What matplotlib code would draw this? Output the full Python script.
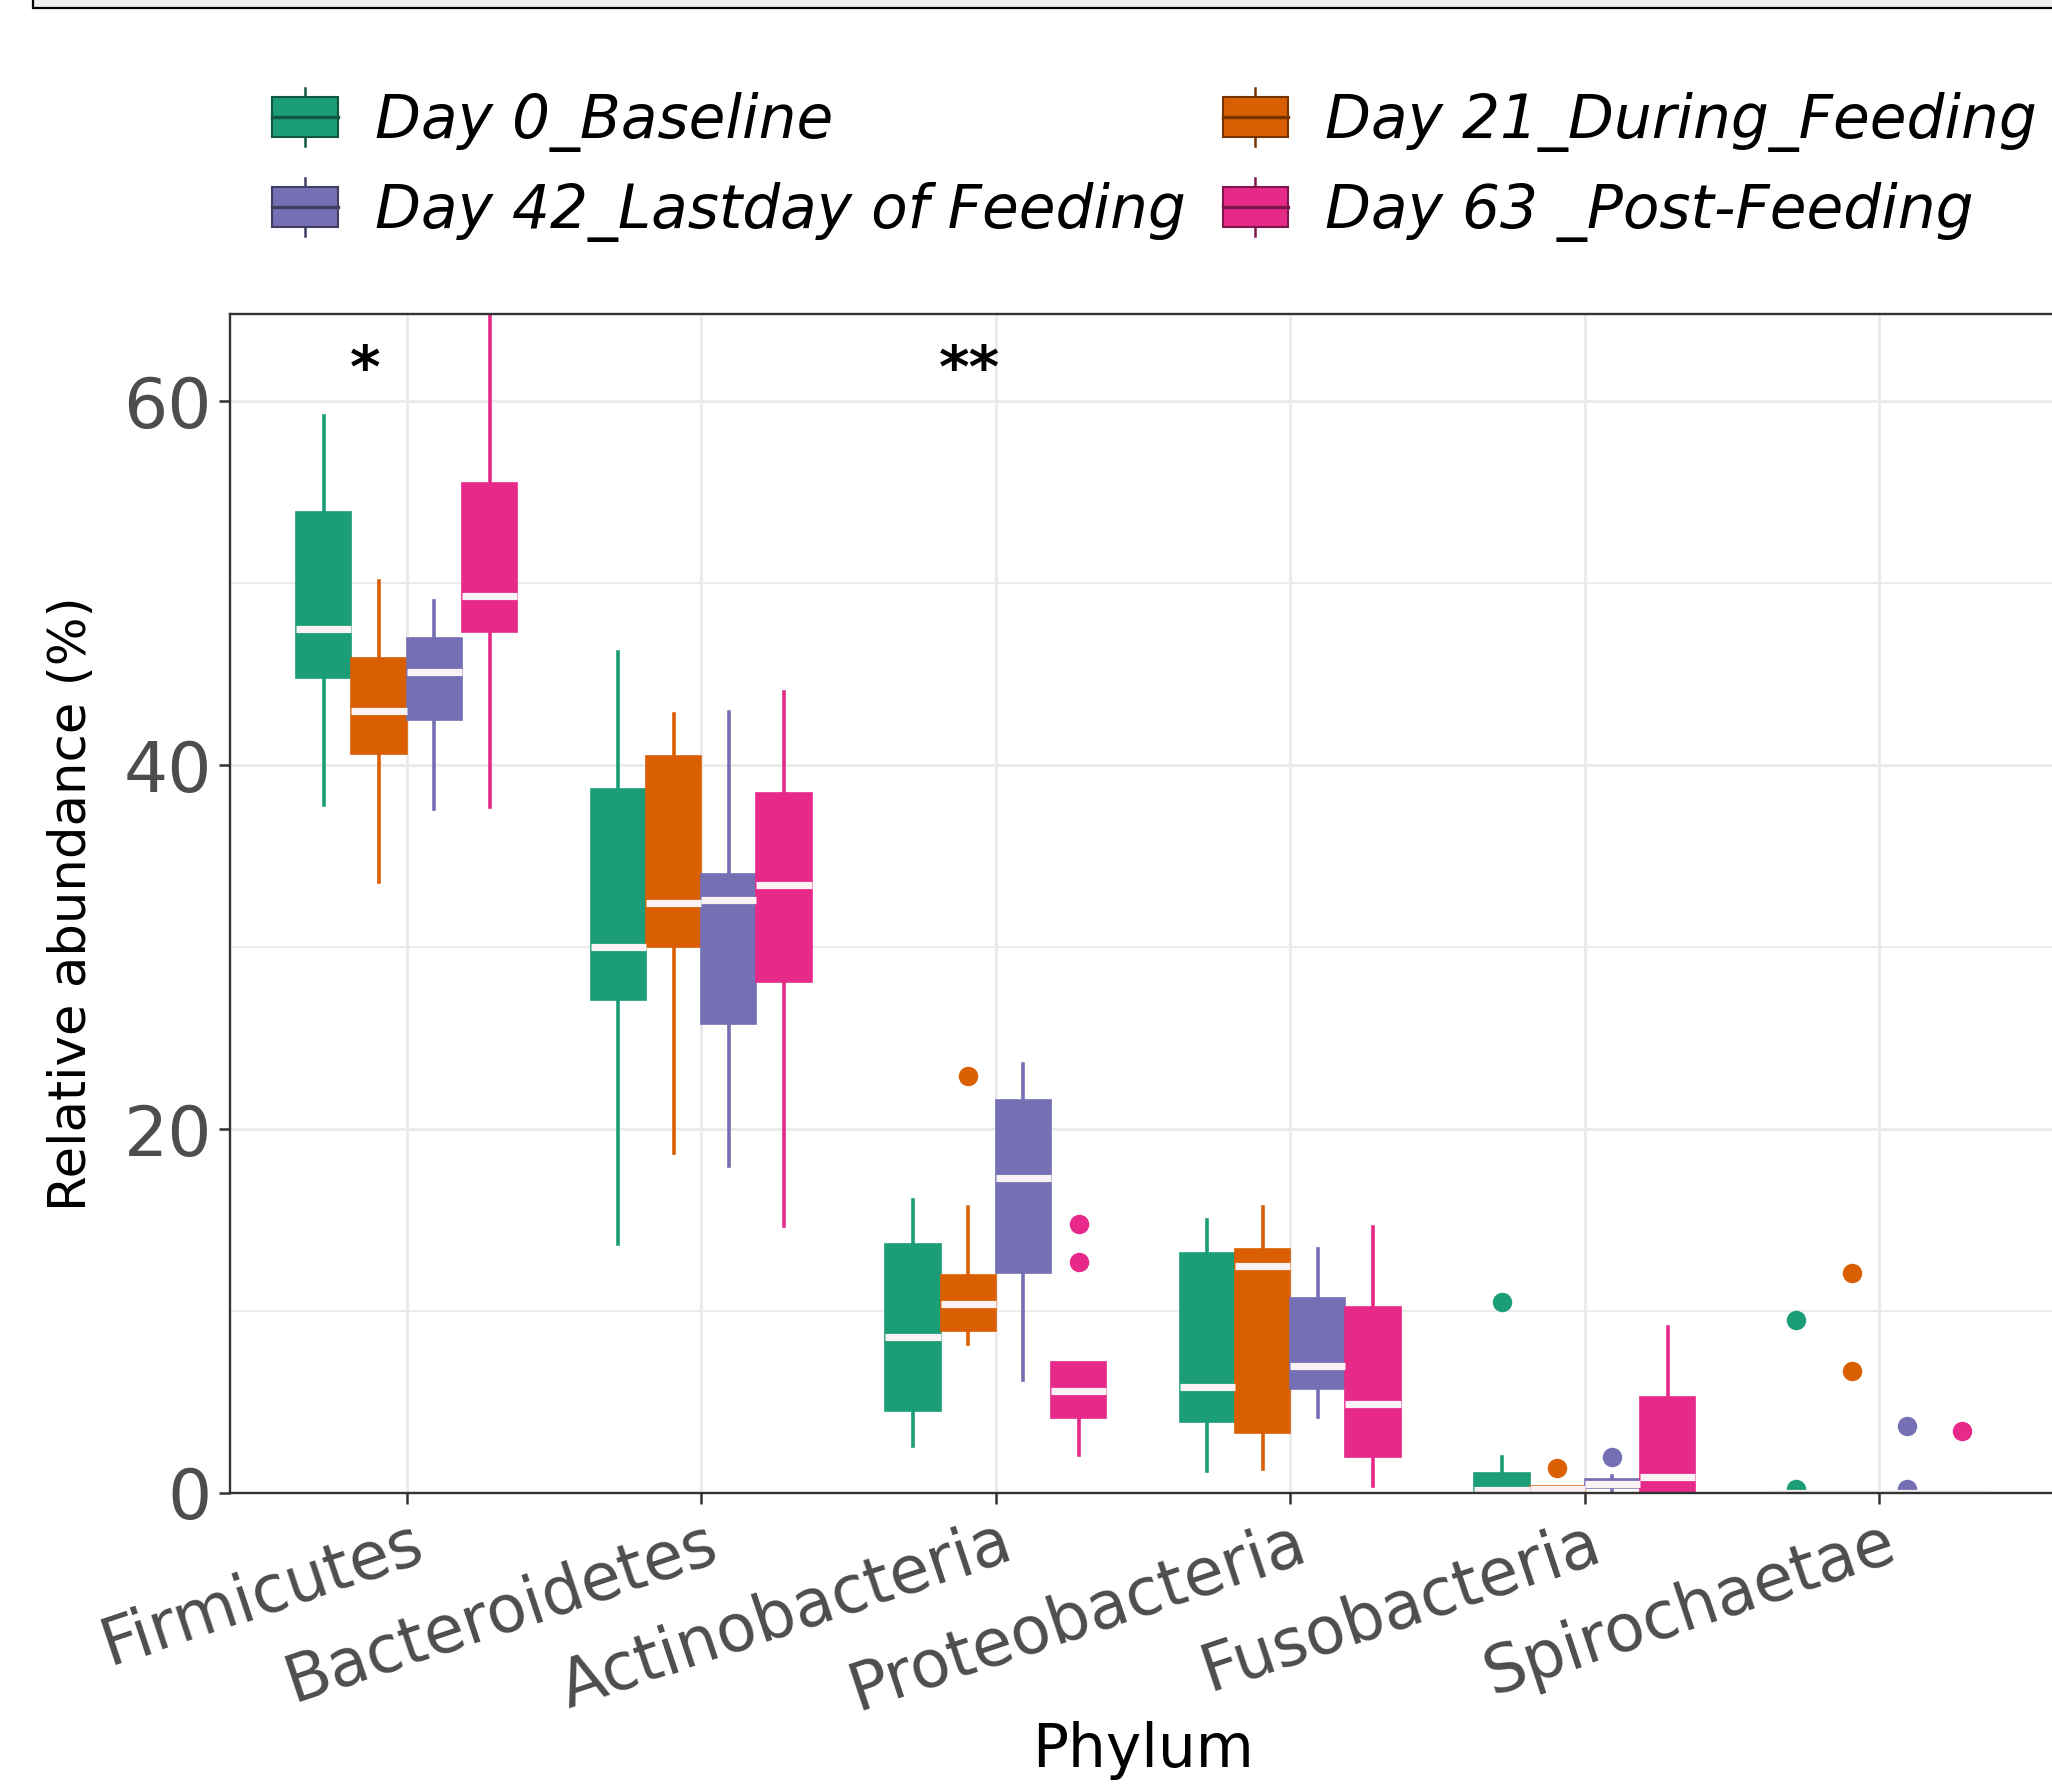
import matplotlib
matplotlib.use("Agg")
import matplotlib.pyplot as plt
from matplotlib.patches import Rectangle, Patch
from matplotlib.lines import Line2D
from matplotlib.legend_handler import HandlerBase
from matplotlib.colors import to_rgb
import matplotlib.transforms as mtransforms

# categories and groups
phyla = ["Firmicutes", "Bacteroidetes", "Actinobacteria", "Proteobacteria",
         "Fusobacteria", "Spirochaetae"]
groups = ["Day 0_Baseline", "Day 21_During_Feeding",
          "Day 42_Lastday of Feeding", "Day 63 _Post-Feeding"]
colors = ["#1B9E77", "#D95F02", "#7570B3", "#E7298A"]

# box statistics, one row per group, one value per phylum
whislo = [[37.8, 13.7, 2.6, 1.2, 0.0, 0.0],
          [33.6, 18.7, 8.2, 1.3, 0.0, 0.0],
          [37.6, 18.0, 6.2, 4.2, 0.0, 0.0],
          [37.7, 14.7, 2.1, 0.4, 0.0, 0.0]]
q1 = [[44.8, 27.1, 4.5, 3.9, 0.1, 0.0],
      [40.6, 30.0, 8.9, 3.3, 0.05, 0.0],
      [42.5, 25.8, 12.1, 5.7, 0.3, 0.0],
      [47.3, 28.1, 4.1, 2.0, 0.0, 0.0]]
med = [[47.5, 30.0, 8.6, 5.8, 0.15, 0.0],
       [43.0, 32.4, 10.4, 12.5, 0.2, 0.0],
       [45.1, 32.6, 17.3, 7.0, 0.5, 0.0],
       [49.3, 33.4, 5.6, 4.9, 0.9, 0.0]]
q3 = [[53.9, 38.7, 13.7, 13.2, 1.1, 0.0],
      [45.9, 40.5, 12.0, 13.4, 0.4, 0.0],
      [47.0, 34.0, 21.6, 10.7, 0.75, 0.0],
      [55.5, 38.5, 7.2, 10.2, 5.3, 0.0]]
whishi = [[59.2, 46.2, 16.1, 15.0, 2.0, 0.0],
          [50.1, 42.8, 15.7, 15.7, 0.4, 0.0],
          [49.0, 42.9, 23.6, 13.4, 0.95, 0.0],
          [66.0, 44.0, 7.2, 14.6, 9.1, 0.0]]
outliers = [[[], [], [], [], [10.5], [9.5, 0.2]],
            [[], [], [22.9], [], [1.4], [12.1, 6.7]],
            [[], [], [], [], [2.0], [3.7, 0.2]],
            [[], [], [14.8, 12.7], [], [], [3.4]]]

# significance marks
star_x = [0.86, 2.91]
star_y = [61.7, 61.7]
star_txt = ["*", "**"]

W, H = 2052, 1786
fig = plt.figure(figsize=(W / 100, H / 100), dpi=100)

# remnant frame of the panel above
fig.add_artist(Rectangle((33 / W, 1 - 8 / H), 1.2, 0.2, transform=fig.transFigure,
                         facecolor="#EFEFEF", edgecolor="black", linewidth=1.6))

ax = fig.add_axes([230 / W, 1 - 1493 / H, 1826 / W, 1179 / H])

dodge = [-0.28125, -0.09375, 0.09375, 0.28125]
box_w = 0.1875

for g in range(len(groups)):
    c = colors[g]
    stats = []
    for i in range(len(phyla)):
        stats.append(dict(whislo=whislo[g][i], q1=q1[g][i], med=med[g][i],
                          q3=q3[g][i], whishi=whishi[g][i], fliers=outliers[g][i]))
    pos = [i + 1 + dodge[g] for i in range(len(phyla))]
    ax.bxp(stats, positions=pos, widths=box_w, patch_artist=True, showcaps=False,
           manage_ticks=False,
           boxprops=dict(facecolor=c, edgecolor=c, linewidth=1.2),
           whiskerprops=dict(color=c, linewidth=2.6),
           medianprops=dict(color="#FBF2F6", linewidth=5.2, solid_capstyle="butt"),
           flierprops=dict(marker="o", markerfacecolor=c, markeredgecolor=c,
                           markersize=13))

for x, y, t in zip(star_x, star_y, star_txt):
    ax.text(x, y, t, ha="center", va="center", fontsize=42, fontweight="bold",
            color="black")

ax.set_xlim(0.4, 6.6)
ax.set_ylim(0, 64.8)
ax.set_xticks(range(1, len(phyla) + 1))
ax.set_xticklabels(phyla, rotation=18.5, ha="right", va="top", rotation_mode="anchor",
                   fontsize=47, color="#4D4D4D")
ax.set_yticks([0, 20, 40, 60])
ax.set_yticks([10, 30, 50], minor=True)
ax.tick_params(axis="y", labelsize=50, labelcolor="#4D4D4D")
ax.tick_params(which="major", length=8, width=1.8, color="#333333", pad=5)
ax.tick_params(which="minor", length=0)
offset = mtransforms.ScaledTranslation(0.04, 0, fig.dpi_scale_trans)
for lab in ax.get_xticklabels():
    lab.set_transform(lab.get_transform() + offset)

ax.set_axisbelow(True)
ax.grid(which="major", color="#EBEBEB", linewidth=2.2)
ax.grid(which="minor", axis="y", color="#EBEBEB", linewidth=1.5)
for sp in ax.spines.values():
    sp.set_color("#333333")
    sp.set_linewidth(1.7)

ax.set_xlabel("Phylum", fontsize=43, color="black")
ax.set_ylabel("Relative abundance (%)", fontsize=37, color="black")
ax.xaxis.label.set_va("center")
ax.xaxis.set_label_coords(0.5, -0.218)
ax.yaxis.label.set_va("center")
ax.yaxis.set_label_coords(-0.0865, 0.5)


class BoxKey(HandlerBase):
    def create_artists(self, legend, orig_handle, xdescent, ydescent, width, height,
                       fontsize, trans):
        fill = orig_handle.get_facecolor()
        dark = tuple(v * 0.55 for v in to_rgb(fill))
        x0, y0 = -xdescent, -ydescent
        whisk = Line2D([x0 + width / 2] * 2, [y0 - 0.22 * height, y0 + 1.22 * height],
                       color=dark, linewidth=1.8, transform=trans)
        rect = Rectangle((x0, y0), width, height, facecolor=fill, edgecolor=dark,
                         linewidth=1.5, transform=trans)
        mid = Line2D([x0, x0 + width], [y0 + height / 2] * 2, color=dark,
                     linewidth=2.4, transform=trans)
        return [whisk, rect, mid]


handles = [Patch(facecolor=c) for c in colors]
order = [0, 2, 1, 3]
fig.legend([handles[k] for k in order], [groups[k] for k in order],
           handler_map={Patch: BoxKey()}, ncol=2, loc="upper left",
           bbox_to_anchor=(272 / W, 1 - 92 / H), frameon=False,
           prop=dict(size=43, style="italic"), borderpad=0, borderaxespad=0,
           handlelength=1.1, handleheight=0.66, handletextpad=0.62,
           columnspacing=0.62, labelspacing=0.5)

fig.savefig("out.png", dpi=100)
